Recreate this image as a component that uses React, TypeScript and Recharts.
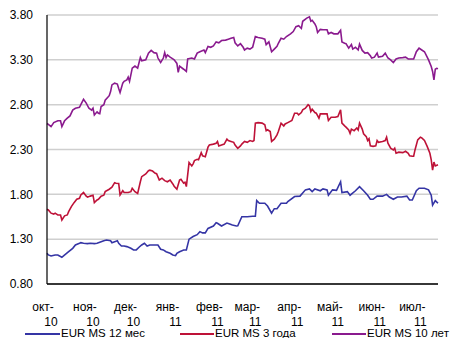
import React from "react";
import { LineChart, Line, XAxis, YAxis, CartesianGrid } from "recharts";

// Day offsets are counted from 1 Oct 2010.
const monthStarts = [0, 31, 61, 92, 123, 151, 182, 212, 243, 273];
const monthLabels = ["окт-10", "ноя-10", "дек-10", "янв-11", "фев-11", "мар-11", "апр-11", "май-11", "июн-11", "июл-11"];
const yTicks = [0.8, 1.3, 1.8, 2.3, 2.8, 3.3, 3.8];

const seriesNames = ["EUR MS 12 мес", "EUR MS 3 года", "EUR MS 10 лет"];
const seriesColors = ["#3535a5", "#be1238", "#8a1a8e"];

// EUR MS 12 мес
const days12m = [
  0, 1, 3, 6, 8, 11, 12, 14, 16, 19,
  21, 24, 25, 27, 30, 32, 35, 37, 40, 42,
  44, 47, 48, 50, 52, 53, 55, 57, 59, 62,
  64, 66, 68, 70, 72, 74, 76, 79, 82, 84,
  86, 88, 91, 93, 95, 96, 98, 101, 103, 105,
  108, 111, 113, 115, 117, 119, 123, 125, 126, 129,
  133, 135, 137, 140, 141, 144, 148, 152, 154, 155,
  157, 161, 163, 166, 168, 170, 173, 177, 178, 183,
  187, 191, 194, 196, 198, 202, 204, 207, 208, 211,
  214, 217, 218, 222, 224, 228, 231, 234, 237, 239,
  241, 244, 248, 251, 253, 256, 259, 262, 266, 268,
  270, 273, 275, 279, 282, 284, 285, 287, 289,
];
const rates12m = [
  1.143, 1.124, 1.112, 1.124, 1.124, 1.098, 1.11, 1.135, 1.16, 1.198,
  1.235, 1.254, 1.261, 1.254, 1.25, 1.254, 1.25, 1.254, 1.272, 1.283,
  1.29, 1.283, 1.261, 1.272, 1.283, 1.254, 1.224, 1.224, 1.217, 1.198,
  1.18, 1.18, 1.21, 1.235, 1.254, 1.224, 1.235, 1.235, 1.235, 1.187,
  1.18, 1.16, 1.143, 1.124, 1.116, 1.143, 1.16, 1.18, 1.18, 1.3,
  1.33, 1.35, 1.384, 1.37, 1.37, 1.42, 1.447, 1.484, 1.477, 1.447,
  1.48, 1.47, 1.458, 1.447, 1.45, 1.55, 1.55, 1.555, 1.555, 1.73,
  1.7, 1.7, 1.67, 1.59, 1.64, 1.64, 1.7, 1.7, 1.72, 1.775,
  1.78, 1.85, 1.86, 1.83, 1.86, 1.84, 1.86, 1.85, 1.79, 1.85,
  1.845, 1.94, 1.82, 1.83, 1.79, 1.84, 1.886, 1.84, 1.79, 1.745,
  1.745, 1.78, 1.78, 1.8, 1.77, 1.745, 1.77, 1.77, 1.78, 1.737,
  1.737, 1.84, 1.868, 1.868, 1.85, 1.79, 1.68, 1.73, 1.7,
];

// EUR MS 3 года
const days3y = [
  0, 1, 3, 5, 6, 8, 10, 11, 13, 15,
  16, 18, 20, 22, 24, 25, 27, 29, 30, 32,
  34, 35, 37, 38, 40, 42, 43, 46, 48, 50,
  51, 53, 54, 56, 57, 60, 62, 63, 65, 67,
  69, 70, 73, 75, 76, 78, 80, 81, 83, 85,
  87, 89, 91, 93, 94, 96, 98, 99, 101, 102,
  103, 105, 107, 108, 109, 111, 112, 114, 115, 117,
  119, 120, 123, 125, 126, 127, 129, 131, 133, 134,
  136, 138, 139, 141, 143, 144, 146, 148, 150, 152,
  153, 154, 156, 159, 161, 162, 163, 165, 166, 168,
  170, 171, 173, 175, 176, 178, 181, 183, 185, 186,
  188, 189, 191, 193, 194, 195, 196, 198, 199, 201,
  202, 204, 207, 208, 210, 213, 215, 217, 218, 220,
  221, 223, 224, 225, 227, 229, 230, 231, 233, 234,
  236, 237, 238, 239, 241, 243, 244, 245, 248, 250,
  251, 252, 254, 256, 257, 258, 260, 263, 265, 267,
  268, 270, 271, 272, 274, 276, 277, 279, 281, 283,
  284, 285, 286, 287, 289,
];
const rates3y = [
  1.634, 1.626, 1.59, 1.58, 1.59, 1.57, 1.57, 1.514, 1.56, 1.57,
  1.607, 1.663, 1.707, 1.745, 1.756, 1.793, 1.82, 1.78, 1.768, 1.78,
  1.79, 1.707, 1.737, 1.745, 1.78, 1.79, 1.83, 1.857, 1.88, 1.93,
  1.924, 1.92, 1.793, 1.84, 1.82, 1.82, 1.83, 1.868, 1.83, 1.81,
  1.94, 1.997, 2.028, 2.064, 2.07, 2.06, 2.035, 2.03, 1.96, 1.98,
  1.953, 1.94, 1.96, 1.916, 1.89, 1.857, 1.96, 1.968, 1.924, 1.935,
  1.886, 2.154, 2.117, 2.14, 2.176, 2.19, 2.185, 2.265, 2.23, 2.22,
  2.326, 2.35, 2.36, 2.37, 2.39, 2.34, 2.35, 2.36, 2.415, 2.4,
  2.39, 2.38, 2.35, 2.314, 2.34, 2.36, 2.39, 2.38, 2.4, 2.39,
  2.4, 2.594, 2.6, 2.594, 2.575, 2.51, 2.52, 2.5, 2.39, 2.415,
  2.463, 2.5, 2.594, 2.563, 2.585, 2.6, 2.623, 2.705, 2.705, 2.686,
  2.712, 2.742, 2.76, 2.8, 2.787, 2.723, 2.75, 2.712, 2.705, 2.65,
  2.697, 2.697, 2.697, 2.623, 2.66, 2.66, 2.667, 2.742, 2.594, 2.563,
  2.55, 2.518, 2.48, 2.527, 2.51, 2.54, 2.518, 2.594, 2.527, 2.475,
  2.444, 2.4, 2.42, 2.34, 2.335, 2.34, 2.4, 2.38, 2.39, 2.4,
  2.437, 2.37, 2.314, 2.295, 2.314, 2.258, 2.27, 2.265, 2.28, 2.258,
  2.23, 2.225, 2.225, 2.295, 2.407, 2.437, 2.43, 2.4, 2.335, 2.258,
  2.184, 2.07, 2.16, 2.117, 2.13,
];

// EUR MS 10 лет
const days10y = [
  0, 1, 3, 5, 8, 10, 11, 13, 15, 17,
  19, 21, 24, 25, 27, 29, 31, 33, 34, 35,
  37, 38, 39, 40, 42, 43, 46, 47, 48, 50,
  52, 53, 54, 56, 57, 59, 60, 61, 63, 65,
  67, 69, 70, 73, 75, 77, 79, 81, 82, 84,
  86, 87, 88, 89, 91, 93, 94, 96, 97, 98,
  101, 103, 104, 107, 109, 111, 113, 116, 117, 119,
  121, 123, 125, 127, 129, 132, 134, 136, 138, 139,
  141, 143, 145, 146, 148, 150, 152, 154, 156, 159,
  161, 162, 164, 166, 168, 170, 171, 173, 175, 177,
  180, 182, 184, 186, 188, 189, 192, 194, 195, 196,
  198, 199, 200, 202, 204, 207, 208, 210, 212, 215,
  217, 218, 220, 221, 223, 225, 226, 228, 230, 231,
  233, 235, 237, 239, 240, 242, 244, 245, 248, 250,
  252, 254, 256, 258, 260, 263, 265, 267, 270, 271,
  273, 275, 277, 279, 281, 282, 284, 285, 286, 287,
  288, 289,
];
const rates10y = [
  2.59, 2.58, 2.555, 2.6, 2.62, 2.62, 2.555, 2.62, 2.65, 2.675,
  2.74, 2.76, 2.77, 2.8, 2.86, 2.817, 2.76, 2.74, 2.76, 2.685,
  2.72, 2.705, 2.7, 2.78, 2.8, 2.85, 2.9, 2.946, 3.02, 3.04,
  3.03, 2.98, 2.935, 3.04, 3.06, 3.077, 3.107, 3.06, 3.207, 3.23,
  3.207, 3.325, 3.29, 3.3, 3.375, 3.405, 3.38, 3.375, 3.32, 3.27,
  3.32, 3.38, 3.325, 3.355, 3.33, 3.31, 3.3, 3.26, 3.16, 3.23,
  3.195, 3.17, 3.31, 3.32, 3.31, 3.375, 3.39, 3.41, 3.38, 3.45,
  3.44, 3.455, 3.5, 3.49, 3.515, 3.52, 3.53, 3.54, 3.55, 3.49,
  3.455, 3.48, 3.44, 3.41, 3.43, 3.42, 3.44, 3.56, 3.55, 3.54,
  3.53, 3.47, 3.5, 3.39, 3.42, 3.45, 3.485, 3.54, 3.53, 3.56,
  3.59, 3.615, 3.67, 3.68, 3.65, 3.73, 3.765, 3.78, 3.73, 3.74,
  3.7, 3.67, 3.605, 3.64, 3.635, 3.635, 3.59, 3.605, 3.59, 3.59,
  3.63, 3.5, 3.485, 3.48, 3.43, 3.47, 3.42, 3.44, 3.41, 3.475,
  3.405, 3.375, 3.38, 3.345, 3.32, 3.33, 3.375, 3.33, 3.34, 3.375,
  3.32, 3.3, 3.27, 3.31, 3.32, 3.325, 3.33, 3.31, 3.31, 3.31,
  3.39, 3.43, 3.41, 3.39, 3.33, 3.3, 3.225, 3.17, 3.077, 3.195,
  3.205, 3.2,
];

const toPoints = (days: number[], rates: number[]) =>
  days.map((day, i) => ({ day, v: rates[i] }));

const series = [
  toPoints(days12m, rates12m),
  toPoints(days3y, rates3y),
  toPoints(days10y, rates10y),
];

const FONT = "'Liberation Sans', Arial, sans-serif";

// Month labels wrap onto two lines: "окт-" above "10".
const MonthTick = (props: any) => {
  const { x, y, payload } = props;
  const idx = monthStarts.indexOf(payload.value);
  const label = idx >= 0 ? monthLabels[idx] : "";
  const [mon, yr] = label.split("-");
  return (
    <g>
      <text x={x - 4} y={y + 27} textAnchor="middle" fontSize={12} fontFamily={FONT} fill="#000">
        {mon}-
      </text>
      <text x={x + 4} y={y + 42} textAnchor="middle" fontSize={12} fontFamily={FONT} fill="#000">
        {yr}
      </text>
    </g>
  );
};

const legendItems = [
  { lineX: 25, textX: 61 },
  { lineX: 180, textX: 215 },
  { lineX: 332, textX: 367 },
];

export default function App() {
  return (
    <div style={{ position: "absolute", left: 0, top: 0, width: 451, height: 338, background: "#fff", overflow: "hidden" }}>
      <LineChart
        width={451}
        height={338}
        margin={{ top: 15, right: 13, left: 0, bottom: 14 }}
      >
        <CartesianGrid vertical={false} stroke="#cfcfcf" strokeWidth={1.5} />
        <XAxis
          dataKey="day"
          type="number"
          domain={[0, 289]}
          ticks={monthStarts}
          interval={0}
          height={40}
          tickLine={false}
          tickSize={0}
          tickMargin={0}
          axisLine={{ stroke: "#000", strokeWidth: 1.5 }}
          tick={<MonthTick />}
        />
        <YAxis
          type="number"
          domain={[0.8, 3.8]}
          ticks={yTicks}
          interval={0}
          width={47}
          tickLine={false}
          tickSize={0}
          tickMargin={14}
          axisLine={{ stroke: "#000", strokeWidth: 1.2 }}
          tickFormatter={(v: number) => v.toFixed(2)}
          tick={{ fontSize: 12, fontFamily: FONT, fill: "#000" }}
        />
        {series.map((data, i) => (
          <Line
            key={seriesNames[i]}
            data={data}
            dataKey="v"
            name={seriesNames[i]}
            type="linear"
            stroke={seriesColors[i]}
            strokeWidth={1.6}
            dot={false}
            isAnimationActive={false}
          />
        ))}
      </LineChart>
      <svg
        width={451}
        height={20}
        style={{ position: "absolute", left: 0, top: 318 }}
      >
        {legendItems.map((item, i) => (
          <g key={seriesNames[i]}>
            <line x1={item.lineX} x2={item.textX - 1} y1={16} y2={16} stroke={seriesColors[i]} strokeWidth={2} />
            <text x={item.textX} y={19} fontSize={11.5} fontFamily={FONT} fill="#000">
              {seriesNames[i]}
            </text>
          </g>
        ))}
      </svg>
    </div>
  );
}
